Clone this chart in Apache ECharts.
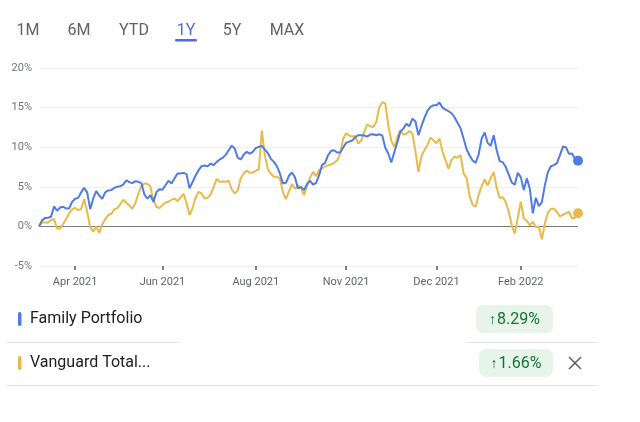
<!DOCTYPE html>
<html>
<head>
<meta charset="utf-8">
<script src="https://cdn.jsdelivr.net/npm/echarts@6/dist/echarts.min.js"></script>
<style>
html,body{margin:0;padding:0;background:#fff;}
#c{width:640px;height:422px;}
</style>
</head>
<body>
<div id="c"></div>
<script>
// Daily-ish samples across the 1Y window (percent change)
var familyPortfolio = [
0,0.76,1.05,1.09,1.22,2.52,1.97,2.39,2.48,2.27,
2.27,3.1,3.49,3.6,4.3,4.87,4.3,2.18,3.5,4.45,
3.9,3.49,4.3,4.54,4.58,4.87,5.0,5.08,5.29,5.8,
5.59,5.46,5.71,5.63,5.46,4.03,3.5,3.95,3.1,4.33,
4.7,4.62,5.2,5.76,5.42,6.05,6.68,6.68,6.76,6.6,
4.8,5.6,6.43,7.1,7.6,7.69,7.6,7.94,7.73,8.15,
8.45,8.66,9.03,9.62,10.2,9.83,8.66,8.45,9.08,9.41,
9.2,9.41,9.9,10.04,10.17,9.7,9.24,8.53,8.15,7.6,
6.68,5.42,5.5,6.39,6.8,6.2,4.8,5.0,4.58,5.34,
5.76,5.29,5.46,6.43,7.77,8.03,8.99,9.54,9.62,9.33,
9.33,9.96,10.55,10.71,10.84,11.26,11.51,11.51,11.47,11.34,
11.6,11.64,11.51,11.64,11.47,9.92,9.2,8.07,9.37,10.59,
11.97,12.35,12.94,12.65,13.6,13.28,11.51,12.65,13.7,14.58,
15.08,15.29,15.29,15.63,15.0,14.75,14.54,14.29,13.78,13.07,
12.39,11.09,9.75,8.95,8.32,8.03,9.08,11.09,11.85,10.55,
10.17,11.51,9.62,8.24,8.11,7.52,6.55,5.55,5.25,6.76,
6.22,4.58,6.09,4.75,1.64,3.61,2.56,3.07,5.21,6.85,
7.6,7.73,7.98,8.99,10.08,10.0,9.16,9.2,8.53,8.29
];
var vanguardTotal = [
0,0.5,0.5,0.5,0.8,0.92,-0.25,-0.3,0.3,0.92,
1.64,2.14,2.35,2.06,2.18,3.45,1.85,-0.08,-0.67,0,
-0.84,0.25,0.92,1.43,1.6,2.14,2.31,2.82,3.36,2.98,
2.65,2.23,2.94,4.16,5.04,5.42,5.38,5.04,3.28,2.48,
2.31,2.69,3.03,3.11,3.36,3.53,3.19,3.66,4.12,2.94,
1.43,2.35,3.61,4.37,4.16,3.53,3.61,4.03,5.0,6.0,
5.63,5.67,5.63,5.76,4.66,4.16,4.54,6.09,6.68,7.06,
6.76,6.8,7.02,7.18,12.1,9.0,7.23,6.64,6.26,6.26,
6.05,4.33,3.45,4.41,5.34,4.75,5.21,4.83,3.95,5.08,
6.13,6.89,6.34,7.1,7.31,7.56,7.73,7.82,8.03,8.32,
9.2,11.05,11.76,11.47,11.34,11.43,10.46,10.84,11.89,12.9,
12.65,12.56,13.15,15.04,15.67,15.55,12.73,10.84,10.0,11.26,
12.14,11.6,11.68,12.06,11.72,9.5,6.89,8.82,9.66,10.29,
11.22,10.88,10.5,11.09,9.45,8.36,7.27,8.36,8.82,8.66,
9.0,6.68,6.13,3.82,2.73,2.48,3.95,5.08,5.92,5.17,
6.09,6.85,4.87,3.57,3.7,3.07,1.85,0.17,-0.9,1.13,
3.11,1.0,0.71,0.13,0.59,-0.08,-0.04,-1.64,0.38,1.72,
2.23,2.23,1.81,1.26,1.47,1.64,1.85,1.0,1.09,1.66
];
var tickLabels = ['Apr 2021','Jun 2021','Aug 2021','Nov 2021','Dec 2021','Feb 2022'];
var tickIndex = [12, 41, 72, 102, 132, 160];
var rangeTabs = ['1M','6M','YTD','1Y','5Y','MAX'];
var seriesNames = ['Family Portfolio','Vanguard Total...'];
var changes = ['8.29%','1.66%'];

var N = familyPortfolio.length;
var cats = [];
for (var i = 0; i < N; i++) cats.push('');
tickIndex.forEach(function(ix, k){ cats[ix] = tickLabels[k]; });

var BLUE = '#4f7be3', YELLOW = '#e8ba4a';
var FONT = 'Roboto, "Noto Sans", sans-serif';

var tabX = [28, 79, 134, 186, 232, 287];
var graphics = [];
rangeTabs.forEach(function(t, k){
  graphics.push({type:'text', x:tabX[k], y:31, style:{text:t, x:0, y:0, align:'center', verticalAlign:'middle',
    font:'16px ' + FONT, fill: t === '1Y' ? '#4a6ee0' : '#5f6368'}});
});
graphics.push({type:'rect', shape:{x:175, y:39, width:22, height:2.5, r:1.2}, style:{fill:'#4a6ee0'}});

// legend rows
var rowY = [319, 363];
var colors = [BLUE, YELLOW];
var badgeX = [476, 479];
var badgeW = [77, 74];
seriesNames.forEach(function(n, k){
  graphics.push({type:'rect', shape:{x:18, y:rowY[k]-7, width:3.5, height:14, r:1.7}, style:{fill:colors[k]}});
  graphics.push({type:'text', x:30, y:rowY[k], style:{text:n, x:0, y:0, verticalAlign:'middle', font:'16px ' + FONT, fill:'#202124'}});
  graphics.push({type:'rect', shape:{x:badgeX[k], y:rowY[k]-14, width:badgeW[k], height:28, r:7}, style:{fill:'#e6f4ea'}});
  graphics.push({type:'text', x:badgeX[k]+badgeW[k]/2, y:rowY[k]+1, style:{
    text:'{a|↑}{b|' + changes[k] + '}', x:0, y:0, align:'center', verticalAlign:'middle',
    rich:{a:{font:'14px ' + FONT, fill:'#137333', padding:[0,1,0,0]}, b:{font:'16px ' + FONT, fill:'#137333'}}}});
});
graphics.push({type:'line', shape:{x1:6, y1:342.5, x2:181, y2:342.5}, style:{stroke:'#e4e4e4', lineWidth:1}});
graphics.push({type:'line', shape:{x1:466, y1:342.5, x2:598, y2:342.5}, style:{stroke:'#e4e4e4', lineWidth:1}});
graphics.push({type:'line', shape:{x1:6, y1:385.5, x2:598, y2:385.5}, style:{stroke:'#e4e4e4', lineWidth:1}});
// close icon
graphics.push({type:'line', shape:{x1:569, y1:357, x2:581, y2:369}, style:{stroke:'#5f6368', lineWidth:1.6}});
graphics.push({type:'line', shape:{x1:581, y1:357, x2:569, y2:369}, style:{stroke:'#5f6368', lineWidth:1.6}});

var chart = echarts.init(document.getElementById('c'), null, {renderer:'canvas'});
chart.setOption({
  animation:false,
  backgroundColor:'#fff',
  grid:{left:39, right:62, top:68, bottom:156, containLabel:false},
  xAxis:{
    type:'category', data:cats, boundaryGap:false,
    axisLine:{show:false, onZero:false},
    axisTick:{show:true, length:4, interval:function(i){ return tickIndex.indexOf(i) >= 0; },
      lineStyle:{color:'#555', width:1.5}},
    axisLabel:{interval:0, color:'#5f6368', fontSize:11, fontFamily:FONT, margin:11},
    splitLine:{show:false}
  },
  yAxis:{
    type:'value', min:-5, max:20, interval:5,
    axisLine:{show:false}, axisTick:{show:false},
    axisLabel:{formatter:'{value}%', color:'#70757a', fontSize:11, fontFamily:FONT, margin:7},
    splitLine:{lineStyle:{color:['#f0f0f0','#7a7a7a','#f0f0f0','#f0f0f0','#f0f0f0','#f0f0f0'], width:1}}
  },
  series:[
    {type:'line', name:seriesNames[0], data:familyPortfolio, showSymbol:false, lineStyle:{color:BLUE, width:2}, itemStyle:{color:BLUE}, z:3},
    {type:'line', name:seriesNames[1], data:vanguardTotal, showSymbol:false, lineStyle:{color:YELLOW, width:2}, itemStyle:{color:YELLOW}, z:2},
    {type:'scatter', data:[[N-1, familyPortfolio[N-1]]], symbolSize:10, itemStyle:{color:BLUE, opacity:1}, z:4},
    {type:'scatter', data:[[N-1, vanguardTotal[N-1]]], symbolSize:10, itemStyle:{color:YELLOW, opacity:1}, z:4}
  ],
  graphic:graphics
});
</script>
</body>
</html>
